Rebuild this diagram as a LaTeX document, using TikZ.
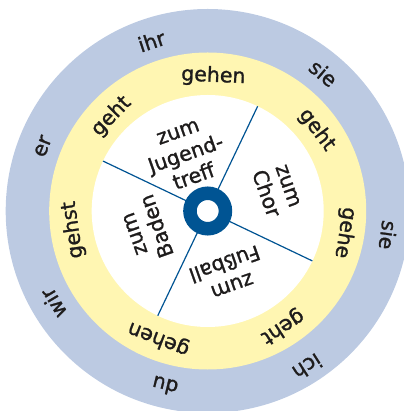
\documentclass[tikz,border=0pt]{standalone}
\usepackage{fontspec}
\setmainfont{DejaVu Sans}
\newfontfamily\wheelfont[FakeBold=1.2]{DejaVu Sans}
\definecolor{ringblue}{RGB}{188,202,226}
\definecolor{ringyellow}{RGB}{255,246,178}
\definecolor{hubblue}{RGB}{0,84,147}
\definecolor{ink}{RGB}{30,28,28}

\begin{document}
\begin{tikzpicture}[x=1pt,y=1pt,
  word/.style={inner sep=0pt,text=ink,font=\wheelfont\fontsize{20.5}{24}\selectfont},
  field/.style={word,align=center},
  spoke/.style={hubblue,line width=1.2pt}]
\useasboundingbox (-207.7,-200) rectangle (195.3,211);
% the three discs
\fill[ringblue] (0,0) circle (202);
\fill[ringyellow] (0,0) circle (158.5);
\fill[white] (0,0) circle (116);
% spokes and hub
\foreach \a in {64.5,154.5,244.5,334.5}
  \draw[spoke] (\a:20) -- (\a:116);
\node[circle,draw=hubblue,line width=13.5pt,minimum size=35.5pt,inner sep=0pt,fill=white] (hub) at (0,0) {};
% inner fields
\node[field,rotate=19.5] (jugend) at (111:60) {zum\\Jugend-\\treff};
\node[field,rotate=-70.5] (chor) at (17:72) {zum\\Chor};
\node[field,rotate=-160.5] (fussball) at (-72:66) {zum\\Fußball};
\node[field,rotate=109.5] (baden) at (197:64) {zum\\Baden};
% verbs on the yellow ring
\node[word,rotate=-2.4] (gehenA) at (87.6:135) {gehen};
\node[word,rotate=-53.4] (gehtA) at (36.6:136) {geht};
\node[word,rotate=-99] (gehe) at (-9:139) {gehe};
\node[word,rotate=-147] (gehtB) at (-57:138) {geht};
\node[word,rotate=-201] (gehenB) at (-111:137) {gehen};
\node[word,rotate=98] (gehst) at (188:136) {gehst};
\node[word,rotate=45.5] (gehtC) at (135.5:135) {geht};
% pronouns on the blue ring
\node[word,rotate=18.3] (ihr) at (108.3:179) {ihr};
\node[word,rotate=-40] (sieA) at (50:180) {sie};
\node[word,rotate=-97.6] (sieB) at (-7.6:182) {sie};
\node[word,rotate=-147.4] (ich) at (-57.4:185) {ich};
\node[word,rotate=166.3] (du) at (-103.7:180) {du};
\node[word,rotate=120.9] (wir) at (210.9:180) {wir};
\node[word,rotate=68.6] (er) at (158.6:177) {er};
\end{tikzpicture}
\end{document}
